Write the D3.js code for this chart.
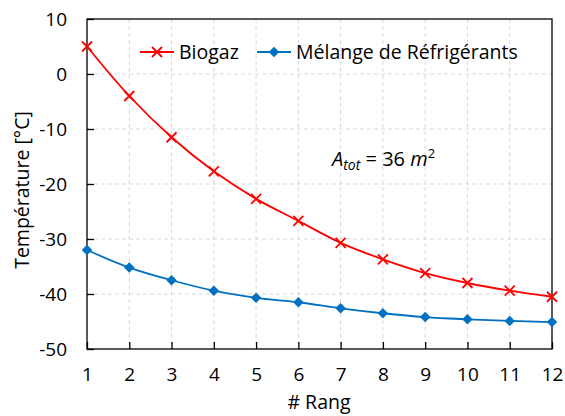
<!DOCTYPE html>
<html>
<head>
<meta charset="utf-8">
<script src="https://cdn.jsdelivr.net/npm/d3@7"></script>
<style>
  body { margin: 0; background: #fff; }
  svg text { font-family: "Open Sans", Lato, sans-serif; fill: #000; }
</style>
</head>
<body>
<div id="chart"></div>
<script>
const rangs = [1, 2, 3, 4, 5, 6, 7, 8, 9, 10, 11, 12];
const biogaz = [5, -4, -11.5, -17.7, -22.7, -26.7, -30.7, -33.7, -36.2, -38, -39.4, -40.5];
const melange = [-32, -35.2, -37.5, -39.4, -40.7, -41.5, -42.6, -43.5, -44.2, -44.6, -44.9, -45.1];
const yTicks = [10, 0, -10, -20, -30, -40, -50];

const W = 565, H = 416;
const margin = { top: 19, right: 13, bottom: 67, left: 87 };
const width = W - margin.left - margin.right;
const height = H - margin.top - margin.bottom;
const fontSize = '19px';
const labelSize = '19.5px';

const svg = d3.select('#chart').append('svg')
  .attr('width', W)
  .attr('height', H);

const g = svg.append('g')
  .attr('transform', `translate(${margin.left},${margin.top})`);

const x = d3.scaleLinear().domain([1, 12]).range([0, width]);
const y = d3.scaleLinear().domain([-50, 10]).range([height, 0]);

// Grid
g.append('g')
  .selectAll('line')
  .data(rangs.slice(1, -1))
  .join('line')
  .attr('x1', d => x(d)).attr('x2', d => x(d))
  .attr('y1', 0).attr('y2', height)
  .attr('stroke', '#d9d9d9').attr('stroke-dasharray', '4,3');

g.append('g')
  .selectAll('line')
  .data(yTicks.slice(1, -1))
  .join('line')
  .attr('x1', 0).attr('x2', width)
  .attr('y1', d => y(d)).attr('y2', d => y(d))
  .attr('stroke', '#d9d9d9').attr('stroke-dasharray', '4,3');

// Plot border
g.append('rect')
  .attr('width', width).attr('height', height)
  .attr('fill', 'none').attr('stroke', '#000').attr('stroke-width', 1.3);

// Axes (plain hyphen for negatives, as in the original)
const xAxis = g.append('g')
  .attr('transform', `translate(0,${height})`)
  .call(d3.axisBottom(x).tickValues(rangs).tickSize(-7).tickPadding(19).tickFormat(d => String(d)));
const yAxis = g.append('g')
  .call(d3.axisLeft(y).tickValues(yTicks).tickSize(-7).tickPadding(20).tickFormat(d => String(d)));

[xAxis, yAxis].forEach(a => {
  a.select('.domain').remove();
  a.selectAll('line').attr('stroke', '#000').attr('stroke-width', 1.3);
  a.selectAll('text').attr('font-size', fontSize).attr('font-family', '"Open Sans", sans-serif');
});

xAxis.selectAll('text').attr('dy', '0.71em');

// Lines
const line = d3.line()
  .x((d, i) => x(rangs[i]))
  .y(d => y(d))
  .curve(d3.curveCatmullRom.alpha(0.5));

g.append('path')
  .datum(biogaz)
  .attr('fill', 'none').attr('stroke', '#ff0000').attr('stroke-width', 1.8)
  .attr('d', line);

g.append('path')
  .datum(melange)
  .attr('fill', 'none').attr('stroke', '#0070c0').attr('stroke-width', 1.8)
  .attr('d', line);

const crossPath = 'M-5,-5L5,5M-5,5L5,-5';
const diamond = d3.symbol().type(d3.symbolDiamond2).size(70)();

g.selectAll('.cross')
  .data(biogaz)
  .join('path')
  .attr('class', 'cross')
  .attr('transform', (d, i) => `translate(${x(rangs[i])},${y(d)})`)
  .attr('d', crossPath)
  .attr('stroke', '#ff0000').attr('stroke-width', 1.8).attr('fill', 'none');

g.selectAll('.diam')
  .data(melange)
  .join('path')
  .attr('class', 'diam')
  .attr('transform', (d, i) => `translate(${x(rangs[i])},${y(d)})`)
  .attr('d', diamond)
  .attr('fill', '#0070c0');

// Axis titles
svg.append('text')
  .attr('x', 319)
  .attr('y', 409)
  .attr('text-anchor', 'middle')
  .attr('font-size', labelSize)
  .text('# Rang');

svg.append('text')
  .attr('transform', `translate(29,190) rotate(-90)`)
  .attr('text-anchor', 'middle')
  .attr('font-size', labelSize)
  .text('Température [°C]');

// Legend
const legend = svg.append('g');
const legendItems = [
  { x: 140, color: '#ff0000', label: 'Biogaz', marker: 'cross' },
  { x: 257, color: '#0070c0', label: 'Mélange de Réfrigérants', marker: 'diamond' }
];
legendItems.forEach(it => {
  const lg = legend.append('g').attr('transform', `translate(${it.x},52)`);
  lg.append('line').attr('x1', 0).attr('x2', 34).attr('y1', 0).attr('y2', 0)
    .attr('stroke', it.color).attr('stroke-width', 1.8);
  if (it.marker === 'cross') {
    lg.append('path').attr('transform', 'translate(17,0)').attr('d', crossPath)
      .attr('stroke', it.color).attr('stroke-width', 1.8).attr('fill', 'none');
  } else {
    lg.append('path').attr('transform', 'translate(17,0)').attr('d', diamond).attr('fill', it.color);
  }
  lg.append('text').attr('x', 39).attr('y', 7).attr('font-size', labelSize).text(it.label);
});

// Annotation
const ann = svg.append('text')
  .attr('x', 332).attr('y', 166)
  .attr('font-family', '"DejaVu Serif", serif')
  .attr('font-size', '20px');
ann.append('tspan').attr('font-style', 'italic').text('A');
ann.append('tspan').attr('font-style', 'italic').attr('font-size', '14px').attr('dy', 4).text('tot');
ann.append('tspan').attr('dy', -4).text(' = 36 ');
ann.append('tspan').attr('font-style', 'italic').text('m');
ann.append('tspan').attr('font-size', '13px').attr('dy', -8).text('2');
</script>
</body>
</html>
